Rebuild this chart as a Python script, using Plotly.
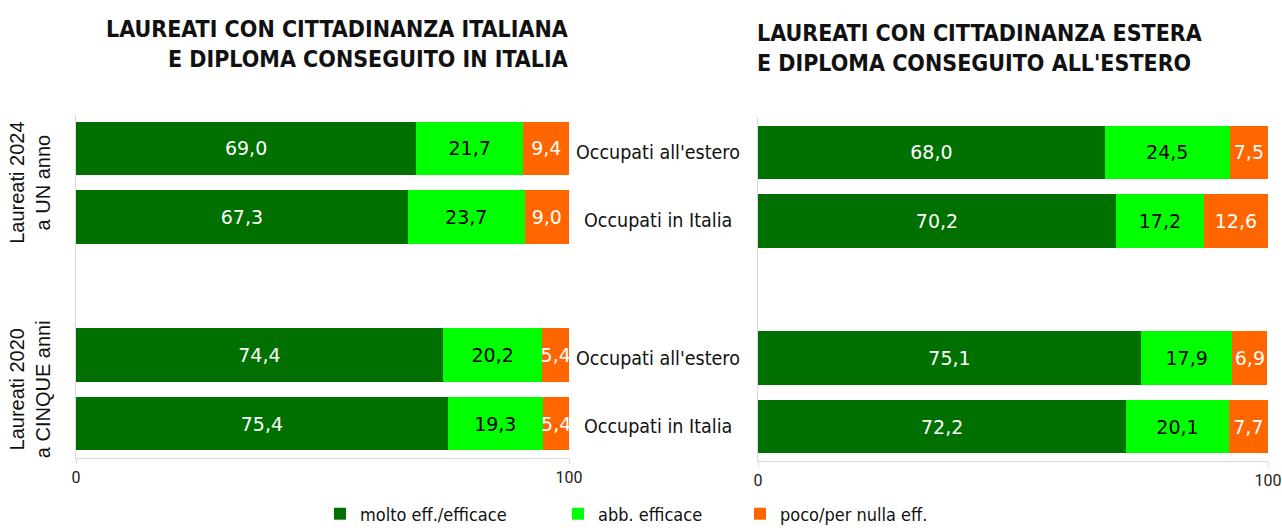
import plotly.graph_objects as go

# ---------------- data ----------------
rows = ["2024|Occupati all'estero", "2024|Occupati in Italia",
        "2020|Occupati all'estero", "2020|Occupati in Italia"]
row_labels = ["Occupati all'estero", "Occupati in Italia",
              "Occupati all'estero", "Occupati in Italia"]
series_names = ["molto eff./efficace", "abb. efficace", "poco/per nulla eff."]

ita_molto = [69.0, 67.3, 74.4, 75.4]
ita_abb = [21.7, 23.7, 20.2, 19.3]
ita_poco = [9.4, 9.0, 5.4, 5.4]

est_molto = [68.0, 70.2, 75.1, 72.2]
est_abb = [24.5, 17.2, 17.9, 20.1]
est_poco = [7.5, 12.6, 6.9, 7.7]

title_left = "<b>LAUREATI CON CITTADINANZA ITALIANA<br>E DIPLOMA CONSEGUITO IN ITALIA</b>"
title_right = "<b>LAUREATI CON CITTADINANZA ESTERA<br>E DIPLOMA CONSEGUITO ALL'ESTERO</b>"
group_labels = ["Laureati 2024<br>a UN anno", "Laureati 2020<br>a CINQUE anni"]
x_ticks = [0, 100]

# ---------------- styling ----------------
W, H = 1282, 528
colors = ["#007000", "#00ff00", "#ff6600"]
text_colors = ["white", "black", "white"]
COND = "DejaVu Sans Condensed, Liberation Sans Narrow, sans-serif"
BARFONT = "DejaVu Sans, Verdana, sans-serif"
spacer = " "
cat_order = rows[:2] + [spacer] + rows[2:]
legend_text_x = [360, 598, 780]  # pixel where each legend text starts

def px_x(p):
    return p / W

def px_y(p):
    return 1 - p / H

legend_ids = ["legend", "legend2", "legend3"]

fig = go.Figure()

def fmt(v):
    return f"{v:.1f}".replace(".", ",")

for side, (vals, xa, ya) in enumerate([
        ((ita_molto, ita_abb, ita_poco), "x", "y"),
        ((est_molto, est_abb, est_poco), "x2", "y2")]):
    for i, (name, v) in enumerate(zip(series_names, vals)):
        fig.add_trace(go.Bar(
            x=v, y=rows, orientation="h", name=name,
            marker=dict(color=colors[i], line=dict(width=0)),
            text=[fmt(a) for a in v], textposition="inside",
            insidetextanchor="middle", textangle=0,
            textfont=dict(color=text_colors[i], size=19, family=BARFONT),
            showlegend=(side == 0), legend=legend_ids[i],
            xaxis=xa, yaxis=ya, hoverinfo="skip",
        ))

axis_common = dict(range=[0, 100], tickvals=x_ticks, ticktext=[str(t) for t in x_ticks],
                   showgrid=False, zeroline=False, showline=True, linecolor="#d9d9d9",
                   ticks="outside", ticklen=5, tickcolor="#d9d9d9", automargin=False,
                   tickfont=dict(size=16, color="#222", family="Roboto, Arial, sans-serif"))
yaxis_common = dict(type="category", categoryorder="array", categoryarray=cat_order,
                    range=[4.5, -0.5], showticklabels=False, showgrid=False, automargin=False,
                    showline=True, linecolor="#d9d9d9", ticks="", zeroline=False)

legend_common = dict(orientation="h", xanchor="left", y=px_y(514), yanchor="middle",
                     font=dict(size=18, family=COND, color="#111"), itemwidth=30,
                     bgcolor="rgba(0,0,0,0)")

fig.update_layout(
    width=W, height=H,
    margin=dict(l=0, r=0, t=0, b=0, pad=0, autoexpand=False),
    paper_bgcolor="white", plot_bgcolor="white",
    barmode="stack", bargap=0.22,
    uniformtext=dict(minsize=19, mode="show"),
    xaxis=dict(domain=[px_x(76), px_x(569)], anchor="y", **axis_common),
    yaxis=dict(domain=[px_y(458), px_y(114)], anchor="x", **yaxis_common),
    xaxis2=dict(domain=[px_x(758), px_x(1268)], anchor="y2", **axis_common),
    yaxis2=dict(domain=[px_y(461), px_y(118)], anchor="x2", **yaxis_common),
    legend=dict(x=px_x(legend_text_x[0] - 40), **legend_common),
    legend2=dict(x=px_x(legend_text_x[1] - 40), **legend_common),
    legend3=dict(x=px_x(legend_text_x[2] - 40), **legend_common),
    font=dict(family=COND),
)

# titles
fig.add_annotation(text=title_left, xref="paper", yref="paper", x=px_x(570), y=px_y(44),
                   xanchor="right", yanchor="middle", align="right", showarrow=False,
                   font=dict(size=23, family=COND, color="#111"))
fig.add_annotation(text=title_right, xref="paper", yref="paper", x=px_x(755), y=px_y(48),
                   xanchor="left", yanchor="middle", align="left", showarrow=False,
                   font=dict(size=23, family=COND, color="#111"))

# category labels between the panels
for r, lab in zip(rows, row_labels):
    fig.add_annotation(text=lab, xref="paper", yref="y2", x=px_x(658), y=r,
                       xanchor="center", yanchor="middle", showarrow=False,
                       font=dict(size=19.5, family=COND, color="#111"))

# group labels (rotated), centred between their two rows
for lab, pair in zip(group_labels, [rows[:2], rows[2:]]):
    fig.add_annotation(text=lab, xref="paper", yref="y", x=px_x(30),
                       y=cat_order.index(pair[0]) + 0.5, showarrow=False,
                       textangle=-90, xanchor="center", yanchor="middle", align="center",
                       font=dict(size=20, family="Liberation Sans, Arial, sans-serif", color="#111"))

post = (
    "document.documentElement.style.margin='0';"
    "document.body.style.margin='0';"
    "document.body.style.overflow='hidden';"
)

fig.write_html("out.html", config={"displayModeBar": False}, post_script=post)
